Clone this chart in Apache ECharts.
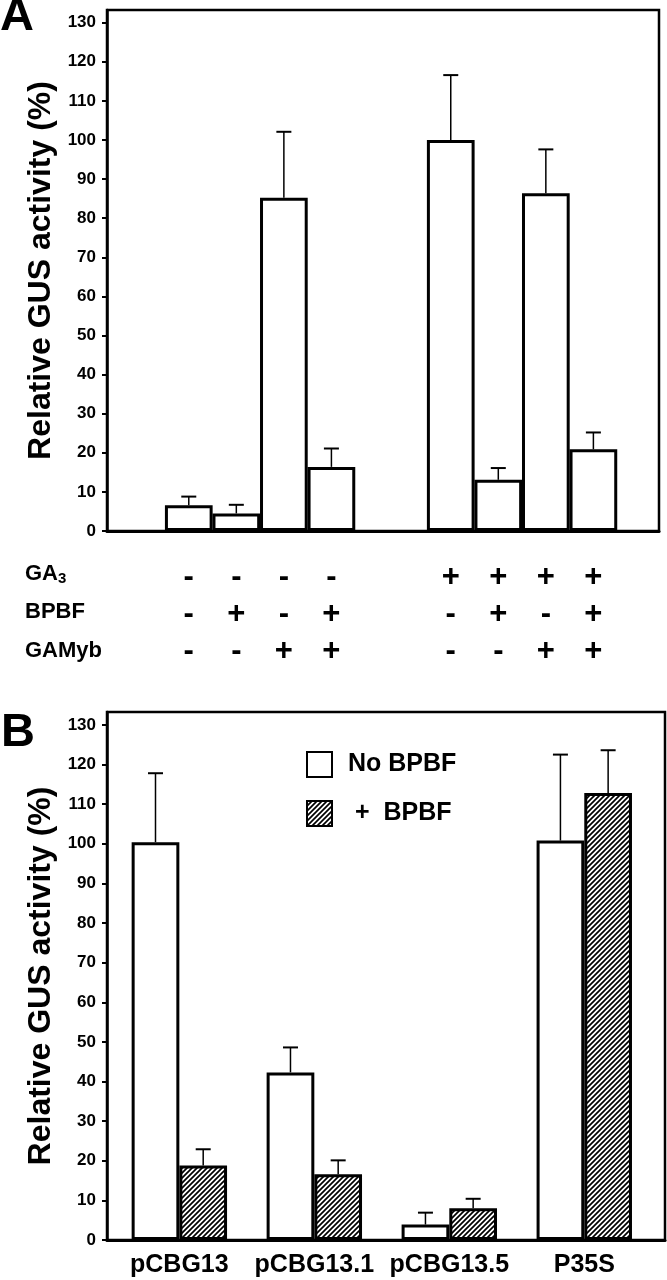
<!DOCTYPE html>
<html><head><meta charset="utf-8">
<script src="https://cdn.jsdelivr.net/npm/echarts@6/dist/echarts.min.js"></script>
<style>html,body{margin:0;padding:0;background:#fff;}#c{width:667px;height:1280px;}</style>
</head><body><div id="c"></div>
<script>
// ---------- data: panel A ----------
const aValues = [6.6, 4.5, 85.2, 16.4, 100.0, 13.1, 86.4, 20.9];
const aErrTop = [8.8, 6.7, 102.1, 21.1, 116.6, 16.1, 97.6, 25.2];
const aGA3   = ['-', '-', '-', '-', '+', '+', '+', '+'];
const aBPBF  = ['-', '+', '-', '+', '-', '+', '-', '+'];
const aGAMyb = ['-', '-', '+', '+', '-', '-', '+', '+'];
const yTicks = [0, 10, 20, 30, 40, 50, 60, 70, 80, 90, 100, 110, 120, 130];
const yName = 'Relative GUS activity (%)';
// ---------- data: panel B ----------
const bCategories = ['pCBG13', 'pCBG13.1', 'pCBG13.5', 'P35S'];
const bNoBPBF      = [100.4, 42.3, 3.9, 100.8];
const bNoBPBFErr   = [117.8, 48.6, 6.9, 122.5];
const bPlusBPBF    = [18.8, 16.6, 8.0, 112.8];
const bPlusBPBFErr = [22.9, 20.1, 10.4, 123.6];
const seriesNames = ['No BPBF', '+ BPBF'];

// ---------- layout ----------
const FONT = '"Liberation Sans", Arial, Helvetica, sans-serif';
const A_GAP = 1.51;             // extra space between the two groups (in bar widths)
const aPos = i => i + (i >= 4 ? A_GAP : 0);
const BAR_A = 47.7, BAR_B = 47.7;

function hatch() {
  const s = 5, c = document.createElement('canvas');
  c.width = s; c.height = s;
  const g = c.getContext('2d');
  g.fillStyle = '#fff'; g.fillRect(0, 0, s, s);
  g.strokeStyle = '#000'; g.lineWidth = 1.7; g.beginPath();
  g.moveTo(-1, s + 1); g.lineTo(s + 1, -1);
  g.moveTo(-1, 1); g.lineTo(1, -1);
  g.moveTo(s - 1, s + 1); g.lineTo(s + 1, s - 1);
  g.stroke();
  return c;
}
const hatchFill = { image: hatch(), repeat: 'repeat' };

function errRender(offset) {
  return function (params, api) {
    const x = api.value(0), v = api.value(1), t = api.value(2);
    const p0 = api.coord([x, v]), p1 = api.coord([x, t]);
    const cx = p0[0] + offset;
    return { type: 'group', children: [
      { type: 'line', shape: { x1: cx, y1: p0[1], x2: cx, y2: p1[1] }, style: { stroke: '#000', lineWidth: 1.5 } },
      { type: 'line', shape: { x1: cx - 7.5, y1: p1[1], x2: cx + 7.5, y2: p1[1] }, style: { stroke: '#000', lineWidth: 2 } }
    ]};
  };
}

const yAxisCommon = {
  type: 'value', min: 0, max: 133.25,
  axisLine: { show: true, onZero: false, lineStyle: { color: '#000', width: 2.5 } },
  axisTick: { show: true, customValues: yTicks, length: 5, lineStyle: { color: '#000', width: 2 } },
  axisLabel: { customValues: yTicks, color: '#000', fontSize: 17, fontWeight: 'bold', fontFamily: FONT, margin: 11 },
  splitLine: { show: false },
  name: yName, nameLocation: 'middle', nameGap: 43,
  nameTextStyle: { color: '#000', fontSize: 32, fontWeight: 'bold', fontFamily: FONT }
};
const gridCommon = { show: true, borderColor: '#000', borderWidth: 2.5, backgroundColor: 'transparent', containLabel: false, outerBoundsMode: 'none' };
const barStyle = { color: '#fff', borderColor: '#000', borderWidth: 3 };

const aPositions = aValues.map((v, i) => aPos(i));
const signRich = { s: { fontSize: 31, fontWeight: 'bold', fontFamily: FONT, color: '#000', lineHeight: 37, align: 'center' } };

const option = {
  animation: false,
  backgroundColor: '#fff',
  grid: [
    Object.assign({ left: 107, right: 8, top: 10, bottom: 749 }, gridCommon),
    Object.assign({ left: 107, right: 2, top: 712, bottom: 40 }, gridCommon)
  ],
  xAxis: [
    { gridIndex: 0, type: 'value', min: -1.72, max: 9.89,
      axisLine: { show: true, onZero: false, lineStyle: { color: '#000', width: 3 } },
      axisTick: { show: false }, splitLine: { show: false },
      axisLabel: { customValues: aPositions, margin: 28, rich: signRich,
        formatter: v => { const i = aPositions.findIndex(p => Math.abs(p - v) < 1e-6);
          return i < 0 ? '' : `{s|${aGA3[i]}}\n{s|${aBPBF[i]}}\n{s|${aGAMyb[i]}}`; } } },
    { gridIndex: 1, type: 'value', min: -0.536, max: 3.598,
      axisLine: { show: true, onZero: false, lineStyle: { color: '#000', width: 3 } },
      axisTick: { show: false }, splitLine: { show: false },
      axisLabel: { customValues: [0, 1, 2, 3], margin: 13, color: '#000', fontSize: 25, fontWeight: 'bold', fontFamily: FONT,
        formatter: v => bCategories[Math.round(v)] } }
  ],
  yAxis: [
    Object.assign({ gridIndex: 0 }, yAxisCommon),
    Object.assign({ gridIndex: 1 }, yAxisCommon)
  ],
  legend: {
    data: seriesNames, orient: 'vertical', left: 306, top: 751, padding: 0,
    itemWidth: 25, itemHeight: 25, itemGap: 22, icon: 'rect',
    textStyle: { color: '#000', fontSize: 25, fontWeight: 'bold', fontFamily: FONT, padding: [0, 0, 0, 11] },
    formatter: n => n === '+ BPBF' ? ' +  BPBF' : n
  },
  graphic: [
    { type: 'text', left: 0, top: -6, style: { text: 'A', fontSize: 47, fontWeight: 'bold', fontFamily: FONT, fill: '#000' } },
    { type: 'text', left: 1, top: 710, style: { text: 'B', fontSize: 47, fontWeight: 'bold', fontFamily: FONT, fill: '#000' } },
    { type: 'text', left: 25, top: 563, style: { text: '{a|GA}{b|3}', fill: '#000',
        rich: { a: { fontSize: 22, fontWeight: 'bold', fontFamily: FONT, fill: '#000' },
                b: { fontSize: 15, fontWeight: 'bold', fontFamily: FONT, fill: '#000', padding: [10, 0, 0, 0] } } } },
    { type: 'text', left: 25, top: 601, style: { text: 'BPBF', fontSize: 22, fontWeight: 'bold', fontFamily: FONT, fill: '#000' } },
    { type: 'text', left: 25, top: 640, style: { text: 'GAMyb', fontSize: 22, fontWeight: 'bold', fontFamily: FONT, fill: '#000' } }
  ],
  series: [
    { type: 'bar', xAxisIndex: 0, yAxisIndex: 0, barWidth: BAR_A, itemStyle: barStyle,
      data: aValues.map((v, i) => [aPos(i), v]) },
    { type: 'custom', xAxisIndex: 0, yAxisIndex: 0, renderItem: errRender(0), z: 5,
      encode: { x: 0, y: [1, 2] },
      data: aValues.map((v, i) => [aPos(i), v, aErrTop[i]]) },
    { name: seriesNames[0], type: 'bar', xAxisIndex: 1, yAxisIndex: 1, barWidth: BAR_B, barGap: '0%', itemStyle: barStyle,
      data: bNoBPBF.map((v, i) => [i, v]) },
    { name: seriesNames[1], type: 'bar', xAxisIndex: 1, yAxisIndex: 1, barWidth: BAR_B, barGap: '0%',
      itemStyle: { color: hatchFill, borderColor: '#000', borderWidth: 3 },
      data: bPlusBPBF.map((v, i) => [i, v]) },
    { type: 'custom', xAxisIndex: 1, yAxisIndex: 1, renderItem: errRender(-BAR_B / 2), z: 5,
      encode: { x: 0, y: [1, 2] },
      data: bNoBPBF.map((v, i) => [i, v, bNoBPBFErr[i]]) },
    { type: 'custom', xAxisIndex: 1, yAxisIndex: 1, renderItem: errRender(BAR_B / 2), z: 5,
      encode: { x: 0, y: [1, 2] },
      data: bPlusBPBF.map((v, i) => [i, v, bPlusBPBFErr[i]]) }
  ]
};
const chart = echarts.init(document.getElementById('c'), null, { renderer: 'canvas' });
chart.setOption(option);
</script>
</body></html>
